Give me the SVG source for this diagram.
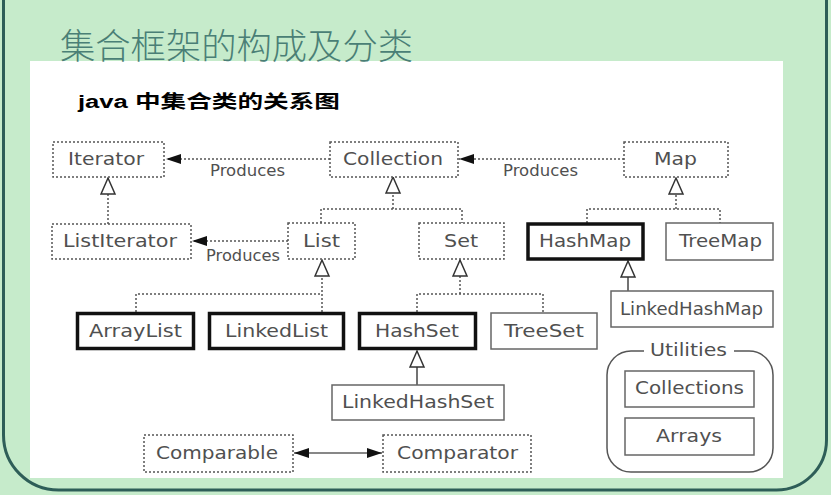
<svg xmlns="http://www.w3.org/2000/svg" width="831" height="495" viewBox="0 0 831 495">
<style>
.dot{fill:none;stroke:#555;stroke-width:1.5;stroke-dasharray:2 2}
.thick{fill:#fff;stroke:#111;stroke-width:3.5}
.thin{fill:#fff;stroke:#666;stroke-width:1.5}
.dbox{fill:#fff;stroke:#555;stroke-width:1.5;stroke-dasharray:2 2}
.lbl{font-family:"DejaVu Sans",Verdana,sans-serif;font-size:18px;fill:#505050}
.prod{font-family:"DejaVu Sans",Verdana,sans-serif;font-size:15px;fill:#505050}
.solid{fill:none;stroke:#444;stroke-width:1.5}
</style>
<defs>
<marker id="fillArrow" markerUnits="userSpaceOnUse" markerWidth="20" markerHeight="14" refX="15" refY="6" orient="auto-start-reverse">
<path d="M0,1 L15,6 L0,11 Z" fill="#111"/>
</marker>
<marker id="hollow" markerUnits="userSpaceOnUse" markerWidth="20" markerHeight="18" refX="17" refY="8" orient="auto">
<path d="M1,1 L17,8 L1,15 Z" fill="#fff" stroke="#333" stroke-width="1.5"/>
</marker>
</defs>
<rect x="0" y="0" width="831" height="495" fill="#c6ebcb"/>
<rect x="30" y="61" width="753" height="417" fill="#fff"/>
<path d="M3.5,-5 V435 A55,55 0 0 0 58.5,490 H776 A50,50 0 0 0 826.5,440 V-5" fill="none" stroke="#2e5e58" stroke-width="3"/>
<text x="60" y="59" font-family="'Noto Sans CJK SC',sans-serif" font-size="35" font-weight="300" fill="#4a7f76" textLength="353" lengthAdjust="spacingAndGlyphs">集合框架的构成及分类</text>
<text x="78" y="108" font-family="'Liberation Sans','Noto Sans CJK SC',sans-serif" font-size="18" font-weight="bold" fill="#000" textLength="262" lengthAdjust="spacingAndGlyphs">java 中集合类的关系图</text>

<g id="connectors">
<path class="dot" d="M330,159 H166" marker-end="url(#fillArrow)"/>
<path class="dot" d="M624,159 H459" marker-end="url(#fillArrow)"/>
<path class="dot" d="M288,241 H192" marker-end="url(#fillArrow)"/>
<path class="dot" d="M108,224 V178" marker-end="url(#hollow)"/>
<path class="dot" d="M393,209 V177" marker-end="url(#hollow)"/>
<path class="dot" d="M321,223 V209 H462 V223"/>
<path class="dot" d="M676,209 V178" marker-end="url(#hollow)"/>
<path class="dot" d="M587,223 V209 H720 V223"/>
<path class="dot" d="M322,312 V260" marker-end="url(#hollow)"/>
<path class="dot" d="M136,312 V294 H322"/>
<path class="dot" d="M460,294 V260" marker-end="url(#hollow)"/>
<path class="dot" d="M417,312 V294 H543 V313"/>
<path class="solid" d="M628,291 V261" marker-end="url(#hollow)"/>
<path class="solid" d="M417,385 V351" marker-end="url(#hollow)"/>
<path d="M294,453 H382" fill="none" stroke="#111" stroke-width="1.2" marker-start="url(#fillArrow)" marker-end="url(#fillArrow)"/>
<text class="prod" x="210" y="176" textLength="75" lengthAdjust="spacingAndGlyphs">Produces</text>
<text class="prod" x="503" y="176" textLength="75" lengthAdjust="spacingAndGlyphs">Produces</text>
<text class="prod" x="206" y="261" textLength="74" lengthAdjust="spacingAndGlyphs">Produces</text>
</g>

<g id="Iterator"><rect class="dbox" x="53" y="142" width="111" height="35"/><text class="lbl" x="68" y="165" textLength="76" lengthAdjust="spacingAndGlyphs">Iterator</text></g>
<g id="Collection"><rect class="dbox" x="330" y="142" width="128" height="35"/><text class="lbl" x="343" y="165" textLength="100" lengthAdjust="spacingAndGlyphs">Collection</text></g>
<g id="Map"><rect class="dbox" x="624" y="142" width="104" height="35"/><text class="lbl" x="654" y="165" textLength="43" lengthAdjust="spacingAndGlyphs">Map</text></g>
<g id="ListIterator"><rect class="dbox" x="52" y="224" width="139" height="35"/><text class="lbl" x="63" y="247" textLength="114" lengthAdjust="spacingAndGlyphs">ListIterator</text></g>
<g id="List"><rect class="dbox" x="288" y="223" width="67" height="36"/><text class="lbl" x="303" y="247" textLength="37" lengthAdjust="spacingAndGlyphs">List</text></g>
<g id="Set"><rect class="dbox" x="419" y="223" width="85" height="36"/><text class="lbl" x="444" y="247" textLength="34" lengthAdjust="spacingAndGlyphs">Set</text></g>
<g id="HashMap"><rect class="thick" x="528" y="224" width="115" height="35"/><text class="lbl" x="539" y="247" textLength="92" lengthAdjust="spacingAndGlyphs">HashMap</text></g>
<g id="TreeMap"><rect class="thin" x="666" y="223" width="107" height="37"/><text class="lbl" x="679" y="247" textLength="83" lengthAdjust="spacingAndGlyphs">TreeMap</text></g>
<g id="LinkedHashMap"><rect class="thin" x="611" y="291" width="162" height="36"/><text class="lbl" x="620" y="315" textLength="143" lengthAdjust="spacingAndGlyphs">LinkedHashMap</text></g>
<g id="ArrayList"><rect class="thick" x="77.5" y="313.5" width="116" height="35"/><text class="lbl" x="89" y="337" textLength="93" lengthAdjust="spacingAndGlyphs">ArrayList</text></g>
<g id="LinkedList"><rect class="thick" x="209.5" y="313.5" width="134" height="35"/><text class="lbl" x="225" y="337" textLength="103" lengthAdjust="spacingAndGlyphs">LinkedList</text></g>
<g id="HashSet"><rect class="thick" x="359.5" y="313.5" width="116" height="35"/><text class="lbl" x="375" y="337" textLength="84" lengthAdjust="spacingAndGlyphs">HashSet</text></g>
<g id="TreeSet"><rect class="thin" x="491" y="313" width="106" height="36"/><text class="lbl" x="504" y="337" textLength="80" lengthAdjust="spacingAndGlyphs">TreeSet</text></g>
<g id="LinkedHashSet"><rect class="thin" x="332" y="385" width="172" height="35"/><text class="lbl" x="342" y="408" textLength="152" lengthAdjust="spacingAndGlyphs">LinkedHashSet</text></g>
<g id="Comparable"><rect class="dbox" x="144" y="435" width="149" height="37"/><text class="lbl" x="156" y="459" textLength="122" lengthAdjust="spacingAndGlyphs">Comparable</text></g>
<g id="Comparator"><rect class="dbox" x="383" y="435" width="148" height="37"/><text class="lbl" x="397" y="459" textLength="121" lengthAdjust="spacingAndGlyphs">Comparator</text></g>
<g id="Utilities">
<rect x="607" y="351" width="166" height="121" rx="24" fill="none" stroke="#555" stroke-width="1.5"/>
<rect x="644" y="344" width="90" height="14" fill="#fff"/>
<text class="lbl" x="650" y="356" textLength="77" lengthAdjust="spacingAndGlyphs">Utilities</text>
<g id="Collections"><rect class="thin" x="625" y="371" width="129" height="36"/><text class="lbl" x="635" y="394" textLength="109" lengthAdjust="spacingAndGlyphs">Collections</text></g>
<g id="Arrays"><rect class="thin" x="625" y="418" width="129" height="37"/><text class="lbl" x="656" y="442" textLength="66" lengthAdjust="spacingAndGlyphs">Arrays</text></g>
</g>
</svg>
